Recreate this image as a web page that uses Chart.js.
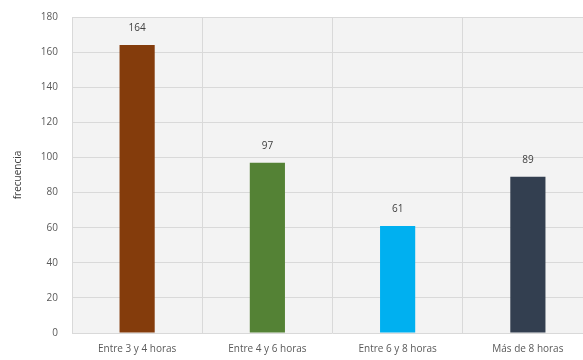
<!DOCTYPE html>
<html>
<head>
<meta charset="utf-8">
<script src="https://cdn.jsdelivr.net/npm/chart.js@4"></script>
<style>
  html, body { margin: 0; padding: 0; background: #ffffff; overflow: hidden; }
  #wrap { width: 593px; height: 360px; }
</style>
</head>
<body>
<div id="wrap"><canvas id="horas_chart"></canvas></div>
<script>
const categorias = ['Entre 3 y 4 horas', 'Entre 4 y 6 horas', 'Entre 6 y 8 horas', 'Más de 8 horas'];
const frecuencias = [164, 97, 61, 89];
const colores = ['#843c0c', '#548235', '#00b0f0', '#333f50'];
const yTicks = [0, 20, 40, 60, 80, 100, 120, 140, 160, 180];

// plot area background
const fondoPlugin = {
    id: 'fondo',
    beforeDraw(chart) {
        const ctx = chart.ctx;
        const a = chart.chartArea;
        ctx.save();
        ctx.fillStyle = '#f3f3f3';
        ctx.fillRect(a.left, a.top, a.right - a.left, a.bottom - a.top);
        ctx.restore();
    }
};

// value labels above bars
const etiquetasPlugin = {
    id: 'etiquetas',
    afterDatasetsDraw(chart) {
        const ctx = chart.ctx;
        const meta = chart.getDatasetMeta(0);
        ctx.save();
        ctx.font = '10px "Open Sans", sans-serif';
        ctx.fillStyle = '#404040';
        ctx.textAlign = 'center';
        ctx.textBaseline = 'bottom';
        meta.data.forEach((bar, i) => {
            ctx.fillText(frecuencias[i], bar.x, bar.y - 12);
        });
        ctx.restore();
    }
};

const config = {
    type: 'bar',
    data: {
        labels: categorias,
        datasets: [{
            label: 'frecuencia',
            data: frecuencias,
            backgroundColor: colores,
            categoryPercentage: 1,
            barPercentage: 0.27
        }]
    },
    options: {
        responsive: true,
        maintainAspectRatio: false,
        animation: false,
        layout: {
            padding: { top: 17, right: 0, bottom: 0, left: 0 }
        },
        plugins: {
            legend: { display: false },
            tooltip: { enabled: false }
        },
        scales: {
            x: {
                afterFit: function(axis) {
                    axis.height = 27;
                },
                grid: { color: '#d9d9d9', drawTicks: false },
                border: { display: false },
                ticks: {
                    color: '#595959',
                    font: { size: 10, family: '"Open Sans", sans-serif' },
                    padding: 10,
                    maxRotation: 0
                }
            },
            y: {
                min: 0,
                max: 180,
                afterBuildTicks: function(axis) {
                    axis.ticks = yTicks.map(v => ({ value: v }));
                },
                afterFit: function(axis) {
                    axis.width = 72;
                    axis.paddingTop = 0;
                    axis.paddingBottom = 0;
                },
                grid: { color: '#d9d9d9', drawTicks: false },
                border: { display: false },
                ticks: {
                    color: '#595959',
                    font: { size: 10, family: '"Open Sans", sans-serif' },
                    padding: 14
                },
                title: {
                    display: true,
                    text: 'frecuencia',
                    color: '#404040',
                    font: { size: 10, family: '"Open Sans", sans-serif' },
                    padding: { top: 12, bottom: 4 }
                }
            }
        }
    },
    plugins: [fondoPlugin, etiquetasPlugin]
};

new Chart(document.getElementById('horas_chart'), config);
</script>
</body>
</html>
